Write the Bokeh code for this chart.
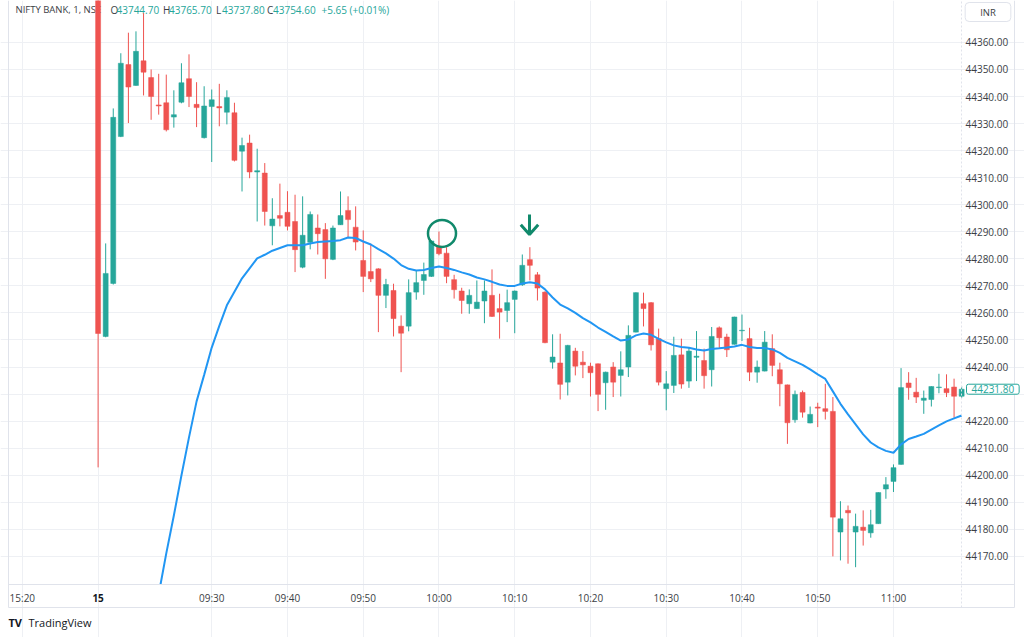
from bokeh.plotting import figure
from bokeh.models import ColumnDataSource, FixedTicker, Label, Range1d, PrintfTickFormatter, LinearAxis
from bokeh.embed import file_html
from bokeh.resources import INLINE

# ---- data (1-minute bars of NIFTY BANK, index 0 = 09:15) ----
bar_index = list(range(0, 115))
opens = [44405.0, 44251.3, 44270.9, 44325.2, 44351.8, 44344.1, 44353.2, 44347.0, 44336.9, 44337.7,
         44332.4, 44337.9, 44346.6, 44337.1, 44324.8, 44336.3, 44336.3, 44334.2, 44334.0, 44319.8,
         44322.8, 44312.1, 44311.7, 44292.2, 44296.0, 44297.2, 44293.8, 44276.9, 44286.1, 44291.4,
         44290.8, 44279.8, 44292.6, 44297.9, 44291.7, 44279.4, 44275.3, 44276.3, 44266.5, 44268.3,
         44255.1, 44255.1, 44267.7, 44272.0, 44273.5, 44284.7, 44282.1, 44272.3, 44268.1, 44263.4,
         44261.6, 44264.4, 44266.5, 44261.6, 44260.9, 44265.0, 44270.4, 44279.7, 44274.1, 44267.7,
         44241.8, 44241.5, 44234.4, 44245.9, 44241.8, 44240.3, 44241.2, 44234.2, 44240.0, 44236.9,
         44240.0, 44252.9, 44263.4, 44263.8, 44250.5, 44232.0, 44233.2, 44244.5, 44234.8, 44243.6,
         44242.4, 44239.0, 44254.5, 44251.1, 44248.4, 44253.4, 44250.5, 44238.1, 44238.5, 44246.8,
         44239.0, 44233.4, 44220.5, 44230.6, 44219.3, 44225.2, 44224.6, 44223.6, 44179.0, 44187.0,
         44179.0, 44180.8, 44178.7, 44182.1, 44194.9, 44197.7, 44204.0, 44234.1, 44230.7, 44227.7,
         44228.0, 44232.4, 44232.0, 44232.6, 44229.2]
highs = [44420.0, 44285.7, 44335.6, 44356.0, 44363.6, 44364.1, 44370.8, 44350.0, 44348.4, 44348.1,
         44342.3, 44352.3, 44355.6, 44345.3, 44343.8, 44342.6, 44344.7, 44342.3, 44337.7, 44324.8,
         44325.9, 44320.7, 44315.4, 44302.4, 44307.8, 44305.0, 44303.7, 44303.1, 44297.5, 44296.4,
         44293.2, 44292.3, 44304.9, 44303.1, 44299.4, 44290.5, 44285.6, 44276.5, 44272.6, 44270.8,
         44259.1, 44272.4, 44275.7, 44278.6, 44286.8, 44290.1, 44284.3, 44274.1, 44269.3, 44268.7,
         44272.0, 44272.0, 44276.1, 44267.1, 44268.6, 44268.3, 44281.6, 44284.3, 44275.1, 44268.0,
         44252.1, 44252.3, 44248.2, 44247.1, 44245.9, 44241.6, 44241.3, 44238.3, 44241.8, 44245.8,
         44255.4, 44267.6, 44267.5, 44264.0, 44254.2, 44238.5, 44251.2, 44250.5, 44247.1, 44253.3,
         44246.8, 44254.8, 44255.0, 44252.3, 44258.6, 44259.4, 44254.5, 44242.4, 44253.3, 44252.1,
         44241.6, 44233.5, 44231.3, 44231.3, 44225.4, 44226.8, 44233.8, 44228.9, 44190.4, 44188.8,
         44185.8, 44187.0, 44187.2, 44193.7, 44199.3, 44204.0, 44239.6, 44238.1, 44236.0, 44231.3,
         44232.9, 44237.5, 44237.3, 44235.7, 44233.0]
lows = [44202.9, 44251.0, 44270.5, 44325.0, 44330.2, 44344.0, 44340.4, 44331.4, 44333.3, 44327.1,
        44328.5, 44337.5, 44336.1, 44328.7, 44324.5, 44315.8, 44329.0, 44329.7, 44316.0, 44304.9,
        44309.8, 44293.8, 44292.3, 44285.0, 44292.0, 44290.5, 44275.1, 44276.5, 44283.5, 44281.6,
        44272.6, 44279.5, 44292.5, 44288.0, 44283.1, 44267.7, 44271.4, 44252.9, 44261.8, 44251.3,
        44238.1, 44253.2, 44264.9, 44266.7, 44273.3, 44281.3, 44271.0, 44265.3, 44259.7, 44259.7,
        44261.5, 44256.2, 44258.5, 44250.5, 44256.6, 44252.5, 44270.0, 44272.0, 44264.6, 44248.8,
        44239.4, 44228.0, 44229.5, 44236.9, 44235.9, 44229.1, 44223.7, 44224.2, 44228.9, 44229.1,
        44236.3, 44252.8, 44255.0, 44246.1, 44233.2, 44224.0, 44230.4, 44232.0, 44232.3, 44234.8,
        44232.0, 44232.8, 44246.8, 44243.7, 44248.3, 44249.6, 44234.8, 44234.2, 44238.4, 44236.6,
        44225.5, 44211.6, 44219.4, 44221.3, 44219.2, 44217.8, 44220.6, 44170.0, 44168.5, 44167.3,
        44166.0, 44174.0, 44176.9, 44182.0, 44191.3, 44193.8, 44203.9, 44227.9, 44226.7, 44222.7,
        44225.4, 44230.3, 44228.9, 44221.3, 44228.5]
closes = [44252.4, 44274.6, 44332.3, 44352.3, 44343.5, 44356.7, 44349.0, 44340.0, 44336.5, 44327.7,
          44333.3, 44345.1, 44340.0, 44335.9, 44336.5, 44338.8, 44335.8, 44339.6, 44316.4, 44321.9,
          44312.1, 44312.6, 44297.5, 44294.7, 44295.0, 44292.0, 44283.4, 44288.7, 44296.4, 44289.3,
          44280.0, 44291.4, 44296.0, 44294.5, 44286.2, 44273.5, 44272.6, 44266.5, 44270.5, 44257.9,
          44252.5, 44267.5, 44271.2, 44274.2, 44286.6, 44281.9, 44273.5, 44268.6, 44264.6, 44266.5,
          44264.0, 44268.1, 44258.7, 44260.3, 44263.8, 44268.1, 44277.6, 44277.6, 44269.2, 44249.0,
          44243.7, 44233.6, 44248.0, 44240.3, 44240.8, 44237.9, 44229.9, 44238.1, 44234.4, 44239.0,
          44251.7, 44267.5, 44261.6, 44248.2, 44234.4, 44233.8, 44244.3, 44233.7, 44245.9, 44244.0,
          44236.8, 44251.3, 44250.8, 44246.4, 44258.5, 44253.6, 44238.1, 44240.0, 44249.2, 44240.6,
          44233.8, 44219.4, 44229.9, 44223.3, 44222.5, 44224.8, 44223.6, 44184.5, 44183.9, 44186.1,
          44181.1, 44179.6, 44181.7, 44193.6, 44196.5, 44202.8, 44232.4, 44232.4, 44228.9, 44228.5,
          44232.8, 44232.6, 44230.5, 44229.2, 44231.8]

# moving average line (enters the pane at its bottom edge)
ma_index = [8.24] + list(range(9, 115))
ma_values = [44159.6, 44171.1, 44185.1, 44199.9, 44214.0, 44227.3, 44237.1, 44247.2, 44255.2, 44262.8,
             44267.8, 44272.8, 44276.5, 44280.2, 44281.5, 44283.0, 44284.0, 44285.0, 44285.0, 44285.0,
             44285.7, 44286.2, 44286.4, 44286.6, 44286.9, 44287.9, 44287.7, 44286.4, 44285.3, 44283.6,
             44282.0, 44280.1, 44277.7, 44276.3, 44275.7, 44275.9, 44276.6, 44277.2, 44276.6, 44275.9,
             44275.0, 44274.2, 44273.1, 44272.4, 44271.5, 44270.5, 44270.0, 44270.0, 44270.9, 44271.3,
             44270.9, 44268.7, 44265.7, 44263.1, 44261.7, 44260.0, 44258.1, 44256.5, 44254.6, 44253.0,
             44251.3, 44249.8, 44250.2, 44251.7, 44252.4, 44251.9, 44250.4, 44249.1, 44248.0, 44247.4,
             44247.1, 44246.5, 44246.1, 44246.7, 44246.9, 44247.2, 44247.6, 44248.2, 44247.4, 44247.0,
             44247.0, 44246.5, 44245.2, 44243.4, 44242.1, 44240.8, 44239.1, 44237.3, 44235.6, 44231.0,
             44226.4, 44222.5, 44218.8, 44215.1, 44212.1, 44210.3, 44209.0, 44208.3, 44211.4, 44213.4,
             44214.3, 44215.3, 44216.9, 44218.4, 44219.9, 44221.0, 44222.1]

tick_index = [-10, 15, 25, 35, 45, 55, 65, 75, 85, 95, 105]
tick_labels = ["15:20", "09:30", "09:40", "09:50", "10:00", "10:10", "10:20",
               "10:30", "10:40", "10:50", "11:00"]
day_tick = 0
day_label = "15"
price_ticks = list(range(44170, 44361, 10))

header_name = "NIFTY BANK, 1, NSE"
header_ohlc = [("O", "43744.70"), ("H", "43765.70"), ("L", "43737.80"), ("C", "43754.60")]
header_change = "+5.65 (+0.01%)"
last_price = 44231.80
currency = "INR"

UP = "#26a69a"
DOWN = "#ef5350"
TXT = "#3b3e45"
FRAME = "#e0e3eb"
GRID = "#eef0f4"
FONT = "Open Sans"

# canvas = frame; px per bar and per price unit of the pane
W, H = 1024, 637
PXB, PXU = 7.575, 2.705
X0 = -97.6 / PXB
X1 = X0 + W / PXB
Y1 = 44375.5
Y0 = Y1 - H / PXU
def xi(px):  # canvas x -> bar index
    return X0 + px / PXB
def yv(py):  # canvas y (from top) -> price
    return Y1 - py / PXU
PANE_L, PANE_R, SCALE_R = xi(8), xi(961), xi(1014)
PANE_B, SCALE_B = yv(584), yv(607)

colors = [UP if c >= o else DOWN for o, c in zip(opens, closes)]
src = ColumnDataSource(dict(
    x=bar_index, h=highs, l=lows,
    top=[max(o, c) for o, c in zip(opens, closes)],
    bot=[min(o, c) for o, c in zip(opens, closes)],
    col=colors))

p = figure(width=W, height=H, output_backend="svg", toolbar_location=None,
           x_range=Range1d(X0, X1), y_range=Range1d(Y0, Y1),
           x_axis_location=None, y_axis_location=None,
           min_border_left=0, min_border_right=0, min_border_top=0, min_border_bottom=0)
p.outline_line_color = None
p.background_fill_color = "white"
p.border_fill_color = "white"

def mk_axis(place, loc, bounds, ticks=(), **kw):
    ax = LinearAxis(ticker=FixedTicker(ticks=list(ticks)), fixed_location=loc, bounds=bounds,
                    major_tick_line_color=None, minor_tick_line_color=None,
                    major_tick_out=0, major_tick_in=0, axis_line_color=FRAME, **kw)
    p.add_layout(ax, place)
    return ax

# time scale
mk_axis("below", PANE_B, (PANE_L, SCALE_R), tick_index,
        major_label_overrides={t: s for t, s in zip(tick_index, tick_labels)},
        major_label_standoff=6, major_label_text_font=FONT, major_label_text_font_size="10px",
        major_label_text_color=TXT)
# price scale (the level hidden under the last-price tag is left out)
mk_axis("right", PANE_R, (SCALE_B, Y1), [t for t in price_ticks if abs(t - last_price) > 5],
        formatter=PrintfTickFormatter(format="%.2f"),
        axis_line_dash="2 2", major_label_standoff=4, major_label_text_font=FONT,
        major_label_text_font_size="10px", major_label_text_color=TXT)
# outer borders
mk_axis("left", PANE_L, (SCALE_B, Y1), major_label_text_font_size="0px")
mk_axis("right", SCALE_R, (SCALE_B, Y1), major_label_text_font_size="0px")
mk_axis("below", SCALE_B, (PANE_L, SCALE_R), major_label_text_font_size="0px")

p.xgrid.ticker = FixedTicker(ticks=sorted(tick_index + [day_tick]))
p.xgrid.bounds = (PANE_B, Y1)
p.ygrid.ticker = FixedTicker(ticks=price_ticks)
p.ygrid.bounds = (PANE_L, PANE_R)
p.xgrid.grid_line_color = GRID
p.ygrid.grid_line_color = GRID

# header (under the candles)
def hlabel(x, text, color, size="10px"):
    p.add_layout(Label(x=x, y=H - 9, x_units="screen", y_units="screen", text=text,
                       text_font=FONT, text_font_size=size, text_color=color,
                       text_baseline="middle", text_align="left", level="underlay"))

hlabel(15, header_name, TXT, size="9.5px")
for (letter, num), x0 in zip(header_ohlc, [110, 162.5, 215.5, 266.5]):
    hlabel(x0, letter, TXT)
    hlabel(x0 + 6, num, UP)
hlabel(321, header_change, UP)

# candles
p.segment(x0="x", y0="h", x1="x", y1="l", color="col", line_width=1, source=src)
p.vbar(x="x", top="top", bottom="bot", width=0.66, fill_color="col", line_color="col",
       line_width=0.5, source=src)

# moving average
p.line(ma_index, ma_values, line_color="#2196f3", line_width=2)

# hand-drawn marks
MARK = "#10896b"
p.ellipse(x=[45.4], y=[44289.4], width=3.7, height=10.0, fill_color=None,
          line_color=MARK, line_width=2.5)
p.segment(x0=[56.95], y0=[44296.4], x1=[56.95], y1=[44289.0], line_color=MARK, line_width=3)
p.line(x=[55.8, 56.95, 58.1], y=[44292.6, 44289.0, 44292.6], line_color=MARK, line_width=3)

# bold day label on the time scale
p.add_layout(Label(x=day_tick, y=H - 597, x_units="data", y_units="screen", text=day_label,
                   text_font=FONT, text_font_size="10px", text_font_style="bold",
                   text_color="#131722", text_align="center", text_baseline="middle"))

# last price tag and currency box on the price scale
p.add_layout(Label(x=xi(966), y=last_price, text="%.2f" % last_price, text_font=FONT,
                   text_font_size="10px", text_color=UP, text_align="left",
                   text_baseline="middle", background_fill_color="white",
                   background_fill_alpha=1.0,
                   border_line_color=UP, padding=dict(left=5, right=5, top=1, bottom=1),
                   border_radius=2))
p.add_layout(Label(x=xi(987.5), y=yv(11.5), text=currency, text_font=FONT,
                   text_font_size="9.5px", text_color=TXT, text_align="center",
                   text_baseline="middle", background_fill_color="white",
                   border_line_color=FRAME, padding=dict(left=15, right=15, top=3, bottom=3),
                   border_radius=4))

# footer
p.add_layout(Label(x=8, y=H - 622, x_units="screen", y_units="screen", text="TV",
                   text_font=FONT, text_font_size="11px", text_font_style="bold",
                   text_color="#131722", text_baseline="middle"))
p.add_layout(Label(x=28, y=H - 622, x_units="screen", y_units="screen", text="TradingView",
                   text_font=FONT, text_font_size="11px", text_color="#131722",
                   text_baseline="middle"))

open("out.html", "w").write(file_html(p, INLINE))
